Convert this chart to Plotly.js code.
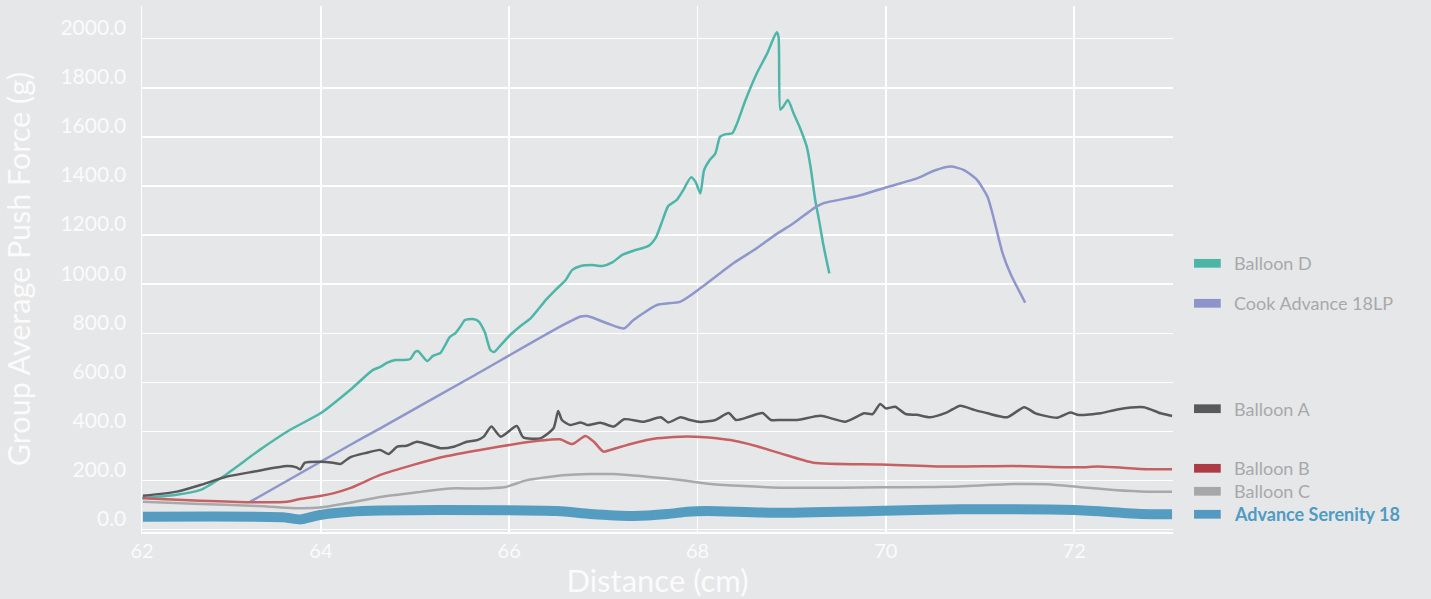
<!DOCTYPE html>
<html>
<head>
<meta charset="utf-8">
<script src="https://cdn.plot.ly/plotly-3.0.1.min.js"></script>
<style>html,body{margin:0;padding:0;background:#e6e7e9;}#chart{width:1431px;height:599px;}</style>
</head>
<body>
<div id="chart"></div>
<script>
// ---- data (distance cm, force g) ----
const seriesNames = ["Balloon D", "Cook Advance 18LP", "Balloon A", "Balloon B", "Balloon C", "Advance Serenity 18"];

const balloonD_x = [62.10,62.45,62.72,62.97,63.35,63.67,64.00,64.31,64.55,64.63,64.70,64.79,64.87,64.95,65.00,65.03,65.13,65.19,65.27,65.32,65.37,65.43,65.48,65.53,65.61,65.67,65.74,65.80,65.84,65.91,66.01,66.12,66.23,66.39,66.49,66.60,66.67,66.76,66.88,66.99,67.10,67.20,67.34,67.48,67.56,67.63,67.69,67.78,67.85,67.93,67.98,68.03,68.07,68.13,68.19,68.24,68.30,68.37,68.42,68.51,68.63,68.74,68.84,68.86,68.88,68.91,68.96,69.02,69.09,69.16,69.20,69.25,69.29,69.34,69.40];
const balloonD_y = [129,141,162,219,325,406,475,569,650,663,679,691,691,695,724,728,687,708,720,752,785,801,826,854,858,850,805,732,724,752,793,830,862,936,976,1017,1058,1074,1078,1074,1090,1119,1139,1156,1192,1262,1319,1343,1384,1435,1416,1370,1465,1506,1533,1601,1611,1615,1655,1750,1859,1940,2026,2008,1710,1723,1750,1696,1635,1560,1479,1343,1262,1153,1044];

const cook_x = [63.25,64.31,64.63,65.59,66.54,66.76,66.83,67.04,67.22,67.32,67.57,67.82,68.03,68.38,68.60,68.85,69.02,69.25,69.34,69.70,70.01,70.33,70.51,70.69,70.83,70.97,71.08,71.15,71.24,71.33,71.48];
const cook_y = [114,345,413,620,827,868,870,841,820,854,915,929,983,1085,1139,1207,1248,1313,1330,1359,1395,1431,1462,1479,1465,1424,1356,1262,1126,1037,925];

const balloonA_x = [62.11,62.47,62.72,63.00,63.28,63.64,63.74,63.78,63.83,63.99,64.13,64.21,64.31,64.47,64.63,64.72,64.81,64.91,65.02,65.13,65.27,65.41,65.55,65.66,65.73,65.81,65.91,66.08,66.15,66.33,66.47,66.52,66.56,66.65,66.76,66.83,66.97,67.11,67.22,67.43,67.61,67.69,67.82,67.92,68.03,68.19,68.33,68.41,68.54,68.69,68.78,68.88,69.06,69.31,69.57,69.77,69.86,69.94,70.00,70.10,70.21,70.33,70.47,70.65,70.79,70.94,71.08,71.29,71.47,71.59,71.82,71.96,72.05,72.28,72.46,72.74,72.92,73.04];
const balloonA_y = [138,155,182,216,236,259,254,246,273,277,273,268,295,312,325,308,338,342,358,348,332,338,358,365,379,420,379,422,376,372,413,483,447,426,437,426,436,420,450,440,458,437,458,447,439,447,475,447,459,475,447,447,447,464,440,474,471,512,494,501,471,468,458,478,505,488,474,458,499,474,456,477,467,474,490,499,474,463];

const balloonB_x = [62.11,62.72,63.25,63.64,63.78,63.99,64.13,64.31,64.63,64.98,65.34,65.69,66.05,66.33,66.54,66.67,66.81,66.90,67.00,67.11,67.32,67.57,67.82,68.03,68.35,68.62,68.88,69.23,69.94,70.65,71.36,72.07,72.25,72.78,73.04];
const balloonB_y = [128,118,112,114,125,137,148,169,223,264,300,325,348,363,368,349,382,358,318,329,352,372,379,378,365,341,311,273,266,257,259,254,257,246,246];

const balloonC_x = [62.11,62.72,63.25,63.78,63.99,64.31,64.63,65.06,65.37,65.69,65.96,66.19,66.61,67.11,67.46,67.82,68.14,68.88,69.94,70.65,71.36,71.72,72.07,72.42,72.78,73.04];
const balloonC_y = [114,105,98,87,90,110,133,154,168,168,174,202,223,227,216,202,186,171,173,175,186,185,173,162,155,155];

const serenity_x = [62.11,63.60,63.78,63.99,64.31,64.63,65.27,66.51,66.86,67.32,67.68,67.89,68.10,68.81,69.87,70.79,72.00,72.71,73.04];
const serenity_y = [53,51,42,60,73,78,80,76,64,56,64,73,76,69,76,83,80,64,63];

const xTickVals = [62.1, 64, 66, 68, 70, 72];
const xTickText = ["62", "64", "66", "68", "70", "72"];
const yTickVals = [0, 200, 400, 600, 800, 1000, 1200, 1400, 1600, 1800, 2000];

// ---- styles ----
const lineColors = ["#4db6a9", "#8e96cb", "#58595b", "#c66063", "#a9a9ab", "#559cc1"];
const swatchColors = ["#4bb5a8", "#8d94ca", "#58595b", "#ad3b45", "#a7a7a9", "#5499bf"];
const lineWidths = [2.5, 2.5, 2.5, 2.5, 2.5, 10];
const xs = [balloonD_x, cook_x, balloonA_x, balloonB_x, balloonC_x, serenity_x];
const ys = [balloonD_y, cook_y, balloonA_y, balloonB_y, balloonC_y, serenity_y];

const traces = seriesNames.map((n, i) => ({
  type: "scatter", mode: "lines", name: n, x: xs[i], y: ys[i],
  line: {color: lineColors[i], width: lineWidths[i], shape: "spline", smoothing: 0.6},
  hoverinfo: "skip"
}));

// legend placement (paper coords, layout only)
const legY = [0.5108, 0.4348, 0.2344, 0.1211, 0.0774, 0.0337];
const shapes = [], annotations = [];
seriesNames.forEach((n, i) => {
  shapes.push({type: "rect", xref: "paper", yref: "paper", x0: 1.0204, x1: 1.0463,
    y0: legY[i] - 0.0083, y1: legY[i] + 0.0083, fillcolor: swatchColors[i], line: {width: 0}});
  const bold = i === 5;
  annotations.push({xref: "paper", yref: "paper", x: 1.057, y: legY[i], xanchor: "left", yanchor: "middle",
    text: bold ? "<b>" + n + "</b>" : n, showarrow: false,
    font: {family: "Lato, 'Open Sans', sans-serif", size: 18, color: bold ? "#4f9bc3" : "#a8a9ab"}});
});

const layout = {
  width: 1431, height: 599,
  paper_bgcolor: "#e6e7e9", plot_bgcolor: "#e6e7e9",
  margin: {l: 142, r: 258, t: 6, b: 67},
  showlegend: false,
  xaxis: {
    range: [62.1, 73.05], tickvals: xTickVals, ticktext: xTickText,
    showgrid: true, gridcolor: "#ffffff", gridwidth: 1.5,
    showline: true, linecolor: "#ffffff", linewidth: 1.5,
    zeroline: false, ticks: "",
    tickfont: {family: "Lato, sans-serif", size: 20, color: "#fbfbfb"},
    title: {text: "Distance (cm)", font: {family: "Lato, sans-serif", size: 31, color: "#fbfbfb"}, standoff: 10}
  },
  yaxis: {
    range: [-9.4, 2133], tickvals: yTickVals, tickformat: ".1f",
    showgrid: true, gridcolor: "#ffffff", gridwidth: 1.5,
    showline: true, linecolor: "#ffffff", linewidth: 1.5,
    zeroline: false, ticks: "", ticklabelshift: -11, ticklabelstandoff: 10,
    tickfont: {family: "Lato, sans-serif", size: 21, color: "#fbfbfb"},
    title: {text: "Group Average Push Force (g)", font: {family: "Lato, sans-serif", size: 30.5, color: "#fbfbfb"}, standoff: 21}
  },
  shapes: shapes,
  annotations: annotations
};

Plotly.newPlot("chart", traces, layout, {displayModeBar: false, staticPlot: true});
</script>
</body>
</html>
